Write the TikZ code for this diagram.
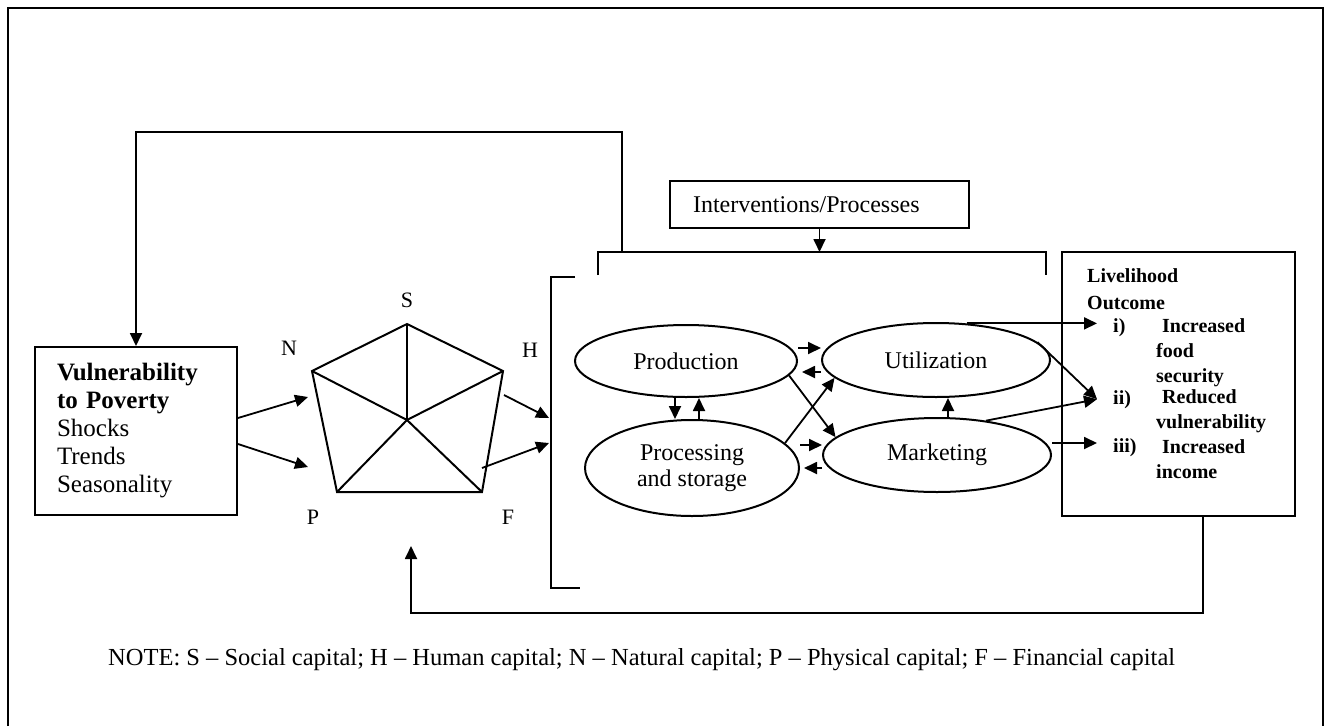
\documentclass[tikz,border=0pt]{standalone}
\usepackage{fontspec}
\setmainfont{Liberation Serif}
\usetikzlibrary{shapes.geometric, arrows.meta, positioning}
\tikzstyle{box}   = [rectangle, draw=black, line width=2pt, inner sep=0pt]
\tikzstyle{oval}  = [ellipse, draw=black, line width=2pt, inner sep=0pt, align=center, font=\fontsize{24}{26}\selectfont]
\tikzstyle{lbl}   = [font=\fontsize{22}{26}\selectfont, inner sep=0pt]
\tikzstyle{otext} = [font=\fontsize{20}{25}\selectfont\bfseries, inner sep=0pt, align=left, anchor=base west]
\tikzstyle{plain} = [line width=2pt]
\tikzstyle{arrow} = [line width=1.8pt, -{Triangle[length=13pt,width=12pt]}]

\begin{document}
\begin{tikzpicture}[x=1pt, y=-1pt]
      \useasboundingbox (0,0) rectangle (1332,726);
      \draw[plain] (8,726) -- (8,8) -- (1323,8) -- (1323,726);

      % boxes
      \node (vuln) [box, text width=158pt, inner xsep=22pt, minimum height=168pt, align=left, font=\fontsize{25}{28}\selectfont] at (136,431)
            {\textbf{Vulnerability}\\\textbf{to Poverty}\\Shocks\\Trends\\Seasonality};
      \node (intv) [box, text width=253pt, inner xsep=23pt, minimum height=47pt, align=left, font=\fontsize{24}{26}\selectfont] at (819.5,204.5)
            {Interventions/Processes};
      \node (lho)  [box, minimum width=233pt, minimum height=264pt] at (1178.5,384) {};

      % activities
      \node (prod) [oval, minimum width=222pt, minimum height=72pt] at (686,361) {Production};
      \node (util) [oval, minimum width=228pt, minimum height=74pt] at (936,360) {Utilization};
      \node (proc) [oval, minimum width=214pt, minimum height=96pt] at (692,468) {Processing\\and storage};
      \node (mark) [oval, minimum width=228pt, minimum height=74pt] at (937,455) {Marketing};

      % outcomes (base = last line)
      \node (lhotitle) [otext, font=\fontsize{20}{27}\selectfont\bfseries] at (1087,309) {Livelihood\\Outcome};
      \node (out1) [otext, inner xsep=16pt] at (1097,332) {i)};
      \node (out2) [otext, inner xsep=16pt] at (1097,404) {ii)};
      \node (out3) [otext, inner xsep=16pt] at (1097,452) {iii)};
      \node (res1) [otext] at (1156,382) {\hspace*{6pt}Increased\\food\\security};
      \node (res2) [otext] at (1156,428) {\hspace*{6pt}Reduced\\vulnerability};
      \node (res3) [otext] at (1156,478) {\hspace*{6pt}Increased\\income};

      % asset pentagon
      \coordinate (cS) at (407,324);
      \coordinate (cN) at (312,371);
      \coordinate (cH) at (503,371);
      \coordinate (cF) at (482,492);
      \coordinate (cP) at (337,492);
      \coordinate (cM) at (407,420);
      \draw[plain] (cS) -- (cH) -- (cF) -- (cP) -- (cN) -- cycle;
      \foreach \v in {cS,cH,cF,cP,cN}
            \draw[plain] (cM) -- (\v);
      \node (lS) [lbl] at (407,300) {S};
      \node (lN) [lbl] at (289,348) {N};
      \node (lH) [lbl] at (530,350) {H};
      \node (lP) [lbl] at (313,517) {P};
      \node (lF) [lbl] at (508,517) {F};

      \coordinate (inN)   at (308,397);
      \coordinate (inP)   at (308,467);
      \coordinate (fromH) at (504,395);
      \coordinate (fromF) at (482,468);
      \coordinate (toH)   at (549,418);
      \coordinate (toF)   at (549,443);
      \coordinate (fbtop) at (622,252);
      \coordinate (capin) at (411,546);

      % brackets
      \draw[plain] (575,277) -- (551,277) -- (551,588) -- (580,588);
      \draw[plain] (598,275) -- (598,252) -- (1046,252) -- (1046,275);

      \draw [arrow] ([yshift=13pt]vuln.east) -- (inN);
      \draw [arrow] ([yshift=-13pt]vuln.east) -- (inP);
      \draw [arrow] (fromH) -- (toH);
      \draw [arrow] (fromF) -- (toF);
      \draw [arrow] (intv.south) -- (intv.south |- fbtop);

      \draw [arrow] ([yshift=13pt]prod.east) -- ([yshift=13pt]prod.east -| util.west);
      \draw [arrow, shorten >=4pt] ([yshift=-12pt]util.west) -- ([yshift=-12pt]util.west -| prod.east);
      \draw [arrow] ([yshift=23pt]proc.east) -- ([yshift=23pt]proc.east -| mark.west);
      \draw [arrow, shorten >=4pt] ([yshift=-13pt]mark.west) -- ([yshift=-13pt]mark.west -| proc.east);
      \draw [arrow] ([xshift=-11pt]prod.south) -- ([xshift=-11pt]prod.south |- proc.north);
      \draw [arrow] ([xshift=7pt]proc.north) -- ([xshift=7pt]proc.north |- prod.south);
      \draw [arrow] ([xshift=11pt]mark.north) -- ([xshift=11pt]mark.north |- util.south);
      \draw [arrow] (prod.-8) -- (mark.170);
      \draw [arrow] (proc.15) -- (util.190);

      \draw [arrow] (util.50) -- (util.50 -| out1.west);
      \draw [arrow] (util.10) -- (out2.west);
      \draw [arrow] (mark.35) -- (out2.west);
      \draw [arrow] ([yshift=12pt]mark.east) -- ([yshift=12pt]mark.east -| out3.west);

      % feedback loops
      \draw [arrow] (fbtop) -- ++(0,-120) -| (vuln.north);
      \draw [arrow] ([xshift=24.5pt]lho.south) -- ++(0,96) -| (capin);

      \node (note) [lbl, anchor=west, font=\fontsize{24.5}{28}\selectfont] at (108,660)
            {NOTE: S – Social capital; H – Human capital; N – Natural capital; P – Physical capital; F – Financial capital};
\end{tikzpicture}
\end{document}
